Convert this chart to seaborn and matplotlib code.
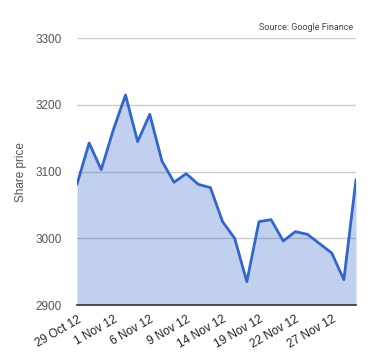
import numpy as np
import pandas as pd
import matplotlib
matplotlib.use("Agg")
import matplotlib.pyplot as plt
import seaborn as sns

# trading days, 29 Oct 12 .. 29 Nov 12
dates = ["29 Oct 12", "30 Oct 12", "31 Oct 12", "1 Nov 12", "2 Nov 12", "5 Nov 12",
         "6 Nov 12", "7 Nov 12", "8 Nov 12", "9 Nov 12", "12 Nov 12", "13 Nov 12",
         "14 Nov 12", "15 Nov 12", "16 Nov 12", "19 Nov 12", "20 Nov 12", "21 Nov 12",
         "22 Nov 12", "23 Nov 12", "26 Nov 12", "27 Nov 12", "28 Nov 12", "29 Nov 12"]
prices = [3081, 3143, 3103, 3163, 3215, 3145, 3186, 3116, 3084, 3097, 3081, 3076,
          3025, 3000, 2935, 3025, 3028, 2996, 3010, 3006, 2992, 2978, 2938, 3088]
tick_every = 3
y_ticks = [2900, 3000, 3100, 3200, 3300]

df = pd.DataFrame({"pos": np.arange(len(dates)), "date": dates, "price": prices})

sns.set_style("white")
plt.rcParams['font.family'] = ['Liberation Sans', 'DejaVu Sans']

fig = plt.figure(figsize=(3.8, 3.6), dpi=100)
ax = fig.add_axes([77 / 380, 1 - 305 / 360, (356 - 77) / 380, (305 - 38.3) / 360])

line_color = "#3366cc"
ax.fill_between(df["pos"], df["price"], 2900, color=line_color, alpha=0.3, lw=0, zorder=2)
sns.lineplot(data=df, x="pos", y="price", ax=ax, color=line_color, lw=2, zorder=3)

ax.set_xlim(0, len(dates) - 1)
ax.set_ylim(2900, 3300)
ax.set_yticks(y_ticks)
ax.set_yticklabels([str(v) for v in y_ticks], fontsize=8.5, color="#555555")
ax.set_xticks(df["pos"][::tick_every])
ax.set_xticklabels(df["date"][::tick_every], rotation=30, ha="right",
                   rotation_mode="anchor", fontsize=8.5, color="#222222")
ax.tick_params(axis="both", length=0)
ax.tick_params(axis="y", pad=11)
ax.tick_params(axis="x", pad=6)

ax.grid(axis="y", color="#cccccc", lw=1, zorder=1)
for s in ["top", "right", "left"]:
    ax.spines[s].set_visible(False)
ax.spines["bottom"].set_color("#333333")
ax.spines["bottom"].set_linewidth(1.2)
ax.spines["bottom"].set_zorder(4)

ax.set_xlabel("")
ax.set_ylabel("Share price", fontsize=8.5, color="#555555", labelpad=6)

fig.text(353 / 380, 1 - 27 / 360, "Source: Google Finance", ha="right", va="center",
         fontsize=6.5, color="#444444", family=["Roboto", "DejaVu Sans"])

fig.savefig("out.png", dpi=100)
